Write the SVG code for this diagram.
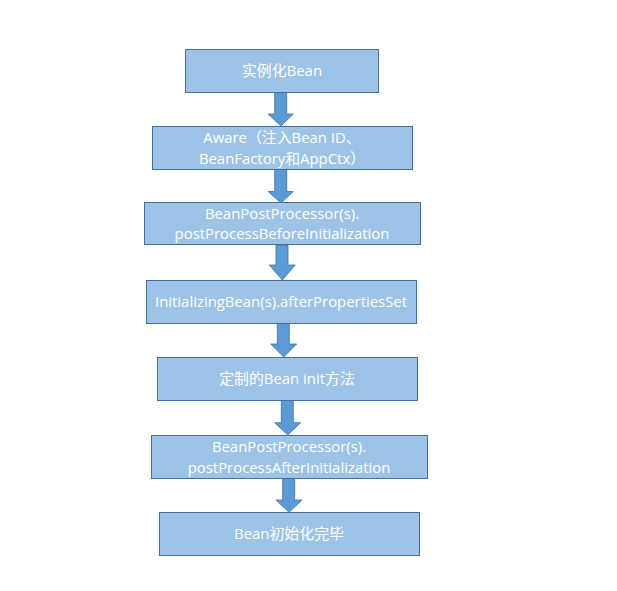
<svg xmlns="http://www.w3.org/2000/svg" width="617" height="591" viewBox="0 0 617 591">
<style>
.box{fill:#9DC3E6;stroke:#41719C;stroke-width:1}
.arr{fill:#5B9BD5;stroke:#41719C;stroke-width:0.8}
text{fill:#fff;font-family:"Open Sans","Noto Sans CJK SC",sans-serif;font-size:14.9px;text-anchor:middle}
</style>
<rect width="617" height="591" fill="#fff"/>
<g id="connectors">
<path class="arr" d="M274.7,92.5 H286.7 V114 H293.3 L281,126 L268,114 H274.7 Z"/>
<path class="arr" d="M274.7,169 H286.7 V191.5 H293.3 L281,203 L268,191.5 H274.7 Z"/>
<path class="arr" d="M276,245 H288 V265 H295.3 L282.3,280 L269.3,265 H276 Z"/>
<path class="arr" d="M277.3,323.3 H289.3 V344 H296.7 L283.7,357 L270.7,344 H277.3 Z"/>
<path class="arr" d="M281.3,400 H293.3 V422.7 H300.7 L287.7,435 L274.7,422.7 H281.3 Z"/>
<path class="arr" d="M282.7,478.3 H294.7 V500 H302 L289,512.3 L276,500 H282.7 Z"/>
</g>
<g id="n1"><rect class="box" x="185.5" y="49.5" width="193" height="43"/><text x="282" y="76">实例化Bean</text></g>
<g id="n2"><rect class="box" x="152.5" y="126.5" width="260" height="43"/><text x="282" y="143">Aware（注入Bean ID、</text><text x="282" y="164">BeanFactory和AppCtx）</text></g>
<g id="n3"><rect class="box" x="144.5" y="202.5" width="276" height="42"/><text x="282" y="219">BeanPostProcessor(s).</text><text x="282" y="239">postProcessBeforeInitialization</text></g>
<g id="n4"><rect class="box" x="146.5" y="280.5" width="270" height="43"/><text x="281" y="307">InitializingBean(s).afterPropertiesSet</text></g>
<g id="n5"><rect class="box" x="157.5" y="357.5" width="260" height="43"/><text x="287" y="384">定制的Bean init方法</text></g>
<g id="n6"><rect class="box" x="151.5" y="435.5" width="276" height="43"/><text x="289" y="452">BeanPostProcessor(s).</text><text x="289" y="473">postProcessAfterInitialization</text></g>
<g id="n7"><rect class="box" x="159.5" y="512.5" width="260" height="43"/><text x="289" y="539">Bean初始化完毕</text></g>
</svg>
